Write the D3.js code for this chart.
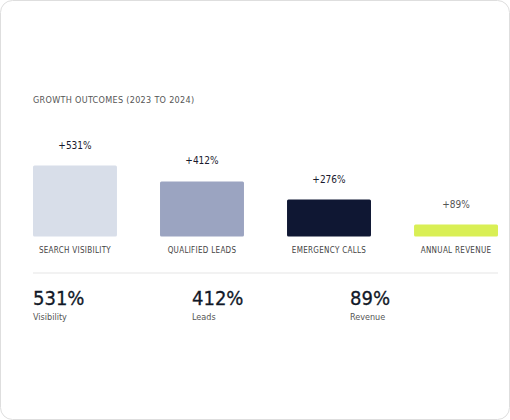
<!DOCTYPE html>
<html><head><meta charset="utf-8">
<script src="https://cdn.jsdelivr.net/npm/d3@7"></script>
<style>body{margin:0;background:#fff}</style>
</head><body>
<svg width="510" height="420"></svg>
<script>
const categories = ["SEARCH VISIBILITY", "QUALIFIED LEADS", "EMERGENCY CALLS", "ANNUAL REVENUE"];
const growth = [531, 412, 276, 89];
const colors = ["#d8dee9", "#9ba4c1", "#0f1733", "#d9ef55"];
const summaryValues = ["531%", "412%", "89%"];
const summaryLabels = ["Visibility", "Leads", "Revenue"];

const svg = d3.select("svg");
const font = "'DejaVu Sans Condensed', 'Liberation Sans Narrow', sans-serif";

svg.append("rect").attr("x", 0.5).attr("y", 0.5).attr("width", 509).attr("height", 419)
  .attr("rx", 12).attr("fill", "#fff").attr("stroke", "#dedede");

svg.append("text").attr("x", 33).attr("y", 103).attr("font-family", font)
  .attr("font-size", 9).attr("fill", "#555").attr("letter-spacing", 0.3)
  .text("GROWTH OUTCOMES (2023 TO 2024)");

var x = d3.scaleBand().domain(categories).range([33, 498]).paddingInner(0.339);
var y = d3.scaleLinear().domain([0, 531]).range([236.5, 165.5]);

var g = svg.append("g").selectAll("g").data(categories).enter().append("g");

g.append("rect")
  .attr("x", d => x(d)).attr("width", x.bandwidth())
  .attr("y", (d, i) => y(growth[i])).attr("height", (d, i) => y(0) - y(growth[i]))
  .attr("rx", 1.5).attr("fill", (d, i) => colors[i]);

g.append("text")
  .attr("x", d => x(d) + x.bandwidth() / 2).attr("y", (d, i) => y(growth[i]) - 17)
  .attr("text-anchor", "middle").attr("font-family", font).attr("font-size", 10)
  .attr("fill", (d, i) => i == 3 ? "#555" : "#1a1a2e")
  .text((d, i) => "+" + growth[i] + "%");

g.append("text")
  .attr("x", d => x(d) + x.bandwidth() / 2).attr("y", 253)
  .attr("text-anchor", "middle").attr("font-family", font).attr("font-size", 8)
  .attr("fill", "#444").attr("letter-spacing", 0.3)
  .text(d => d);

svg.append("line").attr("x1", 33).attr("x2", 498).attr("y1", 273).attr("y2", 273)
  .attr("stroke", "#eeeeee").attr("stroke-width", 1.5);

const sx = [33, 192, 350];
var s = svg.append("g").selectAll("g").data(summaryValues).enter().append("g")
  .attr("transform", (d, i) => "translate(" + sx[i] + ",0)");
s.append("text").attr("y", 305).attr("font-family", font).attr("font-size", 20)
  .attr("fill", "#111827").attr("stroke", "#111827").attr("stroke-width", 0.3).text(d => d);
s.append("text").attr("y", 320).attr("font-family", font).attr("font-size", 9)
  .attr("fill", "#555").text((d, i) => summaryLabels[i]);
</script>
</body></html>
